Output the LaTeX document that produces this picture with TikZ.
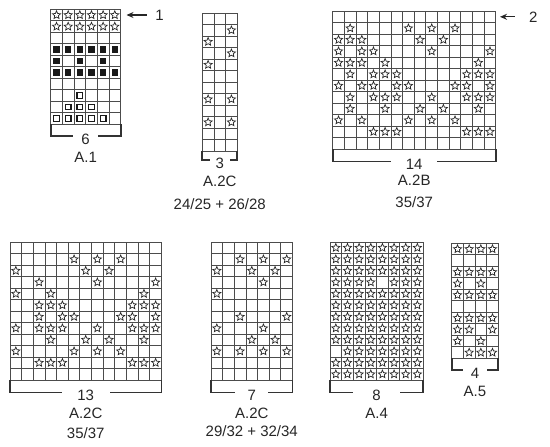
\documentclass[tikz,border=0pt]{standalone}
\usepackage{fontspec}
\setmainfont{Liberation Sans}
\usetikzlibrary{shapes.geometric,arrows.meta,positioning,calc}

\newcommand{\cellw}{11.65}
\newcommand{\cellh}{11.5}
% chart: name, x, y (top left), cols, rows, bracket depth, gap, count
\newcommand{\knitchart}[8]{%
  \foreach \i in {0,...,#4} \draw[gridline] ({#2+\i*\cellw},#3) -- ({#2+\i*\cellw},{#3+#5*\cellh});
  \foreach \j in {0,...,#5} \draw[gridline] (#2,{#3+\j*\cellh}) -- ({#2+#4*\cellw},{#3+\j*\cellh});
  \coordinate (#1-sw) at (#2,{#3+#5*\cellh});
  \coordinate (#1-se) at ({#2+#4*\cellw},{#3+#5*\cellh});
  \draw[bracketline] (#1-sw) -- ++(0,#6) -- ++({#4*\cellw/2-#7/2},0);
  \draw[bracketline] (#1-se) -- ++(0,#6) -- ++({-#4*\cellw/2+#7/2},0);
  \node[countlabel] (#1-count) at ($(#1-sw)!0.5!(#1-se)+(0,#6+3)$) {#8};
}
% symbols in cells: style, name, x, y, row/{cols}
\newcommand{\cellmarks}[5]{%
  \foreach \r/\cl in {#5} \foreach \c in \cl
    \node[#1] (#2-\r-\c) at ({#3+(\c-0.5)*\cellw},{#4+(\r-0.5)*\cellh}) {};
}

\begin{document}
\begin{tikzpicture}[x=1pt,y=-1pt,node distance=18pt,
  gridline/.style={draw=black!70,line width=0.9pt},
  bracketline/.style={draw=black!80,line width=1.8pt},
  knitstar/.style={star,star points=5,star point ratio=2.2,draw=black!85,line width=0.7pt,minimum size=8.5pt,inner sep=0pt},
  solidsq/.style={fill=black!90,minimum size=6.5pt,inner sep=0pt},
  hollowsq/.style={draw=black!90,line width=1.3pt,minimum size=5.5pt,inner sep=0pt},
  countlabel/.style={text=black!85,font=\fontsize{15}{18}\selectfont,inner sep=0pt},
  titlelabel/.style={countlabel},
  rowarrow/.style={-{Stealth[length=7pt,width=6pt]},draw=black!85,line width=1.3pt}]
\useasboundingbox (0,0) rectangle (550,447);

% A.1
\knitchart{A1}{50.7}{9.3}{6}{10}{12}{25}{6}
\cellmarks{knitstar}{A1}{50.7}{9.3}{1/{1,...,6},2/{1,...,6}}
\cellmarks{solidsq}{A1}{50.7}{9.3}{4/{1,...,6},5/{1,3,5},6/{1,...,6}}
\cellmarks{hollowsq}{A1}{50.7}{9.3}{8/{3},9/{2,3,4},10/{1,...,5}}
\node[titlelabel,below of=A1-count] (A1-title) {A.1};
\node[countlabel] (row1) at (159.5,15) {1};
\coordinate (A1-tip) at (126.5,15);
\draw[rowarrow,shorten <=8.5pt] (row1) -- (A1-tip);

% A.2C, 3 sts
\knitchart{A2Cs}{202.3}{13}{3}{12}{9}{20}{3}
\cellmarks{knitstar}{A2Cs}{202.3}{13}{2/{3},3/{1},4/{3},5/{1},8/{1,3},10/{1,3}}
\node[titlelabel,below of=A2Cs-count] (A2Cs-title) {A.2C};
\node[titlelabel,below of=A2Cs-title,node distance=23pt] (A2Cs-size) {24/25 + 26/28};

% A.2B
\knitchart{A2B}{332.7}{11}{14}{12}{12.5}{46}{14}
\cellmarks{knitstar}{A2B}{332.7}{11}{2/{2,7,9,11},3/{1,2,3,8,10},4/{1,3,4,9,14},5/{1,2,3,5,13},
  6/{2,4,5,6,12,13,14},7/{1,3,4,6,7,11,12,14},8/{2,4,5,6,9,12,13,14},9/{2,5,8,10,13},
  10/{1,3,7,9,11},11/{4,5,6,12,13,14}}
\node[titlelabel,below of=A2B-count,node distance=16pt] (A2B-title) {A.2B};
\node[titlelabel,below of=A2B-title,node distance=22pt] (A2B-size) {35/37};
\node[countlabel] (row2) at (533.3,16.8) {2};
\coordinate (A2B-tip) at (500,16.8);
\draw[rowarrow,shorten <=14pt] (row2) -- (A2B-tip);

% A.2C, 13 sts
\knitchart{A2Cb}{10}{242}{13}{12}{12.5}{48}{13}
\cellmarks{knitstar}{A2Cb}{10}{242}{2/{6,8,10},3/{1,7,9},4/{3,8,13},5/{1,4,12},
  6/{3,4,5,11,12,13},7/{3,5,6,10,11,13},8/{1,3,4,5,8,11,12,13},9/{4,7,9,12},
  10/{1,6,8,10},11/{3,4,5,11,12,13}}
\node[titlelabel,below of=A2Cb-count] (A2Cb-title) {A.2C};
\node[titlelabel,below of=A2Cb-title,node distance=20pt] (A2Cb-size) {35/37};

% A.2C, 7 sts
\knitchart{A2Cm}{211}{242}{7}{12}{12.5}{33}{7}
\cellmarks{knitstar}{A2Cm}{211}{242}{2/{3,5,7},3/{1,4,6},4/{5},5/{1},7/{3,7},8/{1,5},9/{4,6},10/{1,3,5,7}}
\node[titlelabel,below of=A2Cm-count] (A2Cm-title) {A.2C};
\node[titlelabel,below of=A2Cm-title] (A2Cm-size) {29/32 + 32/34};

% A.4
\knitchart{A4}{330}{242}{8}{12}{12.5}{47}{8}
\foreach \r in {1,...,12} {
  \foreach \c in {1,...,8} {
    \ifnum\numexpr\r*10+\c\relax=45 \else\ifnum\numexpr\r*10+\c\relax=101 \else
      \node[knitstar] (A4-\r-\c) at ({330+(\c-0.5)*\cellw},{242+(\r-0.5)*\cellh}) {};
    \fi\fi
  }
}
\node[titlelabel,below of=A4-count] (A4-title) {A.4};

% A.5
\knitchart{A5}{451.7}{243.3}{4}{10}{11.7}{24}{4}
\cellmarks{knitstar}{A5}{451.7}{243.3}{1/{1,2,3,4},3/{1,2,3,4},4/{1,3},5/{1,2,3,4},7/{1,2,3,4},8/{1,2,4},9/{1,3},10/{2,3,4}}
\node[titlelabel,below of=A5-count,node distance=18.7pt] (A5-title) {A.5};
\end{tikzpicture}
\end{document}
